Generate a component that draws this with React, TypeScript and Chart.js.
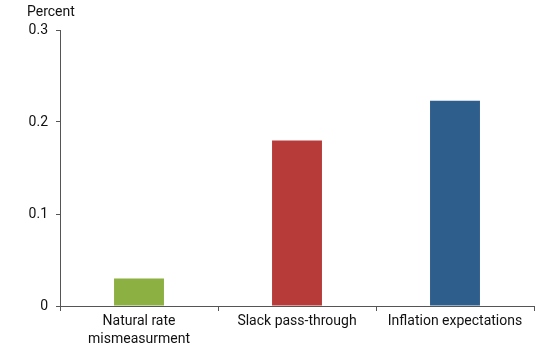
import React, { useEffect, useRef } from "react";
import { Chart, registerables } from "chart.js";

Chart.register(...registerables);

const categories: (string | string[])[] = [
  ["Natural rate", "mismeasurment"],
  "Slack pass-through",
  "Inflation expectations",
];
const values = [0.03, 0.18, 0.223];
const barColors = ["#8CB042", "#B73B39", "#2D5E8C"];
const yTicks = [0, 0.1, 0.2, 0.3];
const yUnit = "Percent";

const FONT = "Roboto, 'Liberation Sans', Arial, sans-serif";

export default function App() {
  const ref = useRef<HTMLCanvasElement | null>(null);

  useEffect(() => {
    document.body.style.margin = "0";
    const canvas = ref.current;
    if (!canvas) return;

    const unitPlugin = {
      id: "unitLabel",
      afterDraw(chart: any) {
        const ctx = chart.ctx;
        ctx.save();
        ctx.font = `14px ${FONT}`;
        ctx.fillStyle = "#111";
        ctx.textAlign = "left";
        ctx.textBaseline = "middle";
        ctx.fillText(yUnit, 27, 12);
        ctx.restore();
      },
    };

    const chart = new Chart(canvas, {
      type: "bar",
      data: {
        labels: categories,
        datasets: [
          {
            data: values,
            backgroundColor: barColors,
            borderWidth: 0,
            barPercentage: 0.316,
            categoryPercentage: 1,
          },
        ],
      },
      options: {
        responsive: false,
        animation: false,
        maintainAspectRatio: false,
        layout: { padding: { top: 30, right: 16, left: 0, bottom: 0 } },
        plugins: {
          legend: { display: false },
          tooltip: { enabled: false },
          title: { display: false },
        },
        scales: {
          x: {
            grid: {
              display: true,
              drawOnChartArea: false,
              drawTicks: true,
              tickLength: 5,
              color: "#555",
              offset: true,
            },
            border: { display: true, color: "#555", width: 1 },
            ticks: {
              color: "#111",
              font: { family: FONT, size: 14, lineHeight: 1.3 },
              padding: 1,
              maxRotation: 0,
              autoSkip: false,
            },
            afterFit(scale: any) {
              scale.height = 45;
            },
          },
          y: {
            min: 0,
            max: 0.3,
            afterBuildTicks(scale: any) {
              scale.ticks = yTicks.map((v) => ({ value: v }));
            },
            grid: {
              display: true,
              drawOnChartArea: false,
              drawTicks: true,
              tickLength: 4,
              color: "#555",
            },
            border: { display: true, color: "#555", width: 1 },
            ticks: {
              color: "#111",
              font: { family: FONT, size: 14 },
              padding: 8,
              callback: (v: any) => (v === 0 ? "0" : Number(v).toFixed(1)),
            },
            afterFit(scale: any) {
              scale.width = 60;
            },
          },
        },
      },
      plugins: [unitPlugin],
    });

    return () => chart.destroy();
  }, []);

  return (
    <div style={{ position: "fixed", left: 0, top: 0, width: 550, height: 351 }}>
      <canvas ref={ref} width={550} height={351} style={{ width: 550, height: 351 }} />
    </div>
  );
}
